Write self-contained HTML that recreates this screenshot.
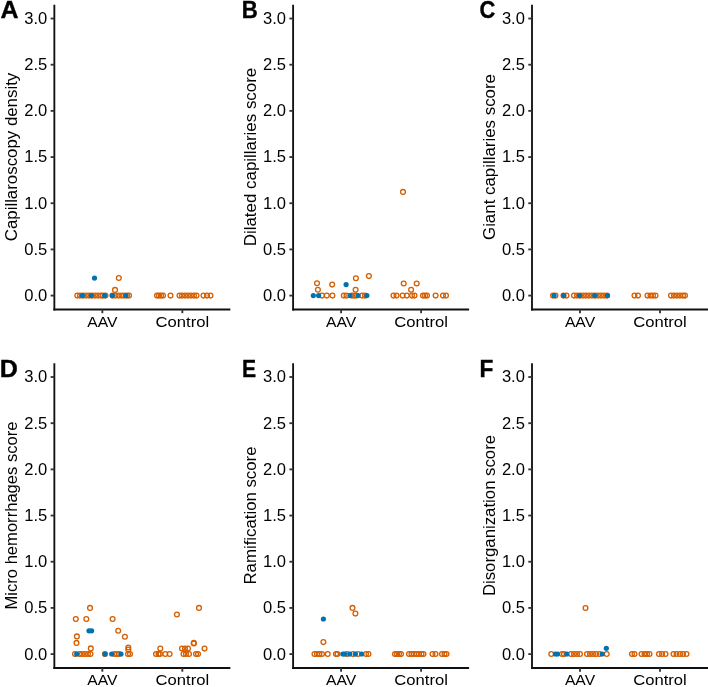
<!DOCTYPE html><html><head><meta charset="utf-8"><style>html,body{margin:0;padding:0;background:#fff;width:708px;height:687px;overflow:hidden}svg{display:block;will-change:transform}</style></head><body>
<svg style="font-family:&quot;Liberation Sans&quot;, sans-serif" width="708" height="687" viewBox="0 0 708 687">
<rect width="708" height="687" fill="#fff"/>
<g><line x1="54.35" y1="4.80" x2="54.35" y2="310.43" stroke="#111" stroke-width="1.85"/><line x1="53.43" y1="309.50" x2="230.35" y2="309.50" stroke="#111" stroke-width="1.85"/><line x1="50.65" y1="295.60" x2="54.35" y2="295.60" stroke="#333" stroke-width="1.85"/><text x="47.25" y="301.00" text-anchor="end" font-size="16" fill="#000" textLength="23" lengthAdjust="spacingAndGlyphs">0.0</text><line x1="50.65" y1="249.42" x2="54.35" y2="249.42" stroke="#333" stroke-width="1.85"/><text x="47.25" y="254.82" text-anchor="end" font-size="16" fill="#000" textLength="23" lengthAdjust="spacingAndGlyphs">0.5</text><line x1="50.65" y1="203.24" x2="54.35" y2="203.24" stroke="#333" stroke-width="1.85"/><text x="47.25" y="208.64" text-anchor="end" font-size="16" fill="#000" textLength="23" lengthAdjust="spacingAndGlyphs">1.0</text><line x1="50.65" y1="157.06" x2="54.35" y2="157.06" stroke="#333" stroke-width="1.85"/><text x="47.25" y="162.46" text-anchor="end" font-size="16" fill="#000" textLength="23" lengthAdjust="spacingAndGlyphs">1.5</text><line x1="50.65" y1="110.88" x2="54.35" y2="110.88" stroke="#333" stroke-width="1.85"/><text x="47.25" y="116.28" text-anchor="end" font-size="16" fill="#000" textLength="23" lengthAdjust="spacingAndGlyphs">2.0</text><line x1="50.65" y1="64.70" x2="54.35" y2="64.70" stroke="#333" stroke-width="1.85"/><text x="47.25" y="70.10" text-anchor="end" font-size="16" fill="#000" textLength="23" lengthAdjust="spacingAndGlyphs">2.5</text><line x1="50.65" y1="18.52" x2="54.35" y2="18.52" stroke="#333" stroke-width="1.85"/><text x="47.25" y="23.92" text-anchor="end" font-size="16" fill="#000" textLength="23" lengthAdjust="spacingAndGlyphs">3.0</text><line x1="102.35" y1="309.50" x2="102.35" y2="313.20" stroke="#333" stroke-width="1.85"/><text x="102.35" y="326.90" text-anchor="middle" font-size="15.3" fill="#000" textLength="30.2" lengthAdjust="spacingAndGlyphs">AAV</text><line x1="182.35" y1="309.50" x2="182.35" y2="313.20" stroke="#333" stroke-width="1.85"/><text x="182.35" y="326.90" text-anchor="middle" font-size="15.3" fill="#000" textLength="53.6" lengthAdjust="spacingAndGlyphs">Control</text><text transform="translate(17.25,157.00) rotate(-90)" x="0" y="0" text-anchor="middle" font-size="15.6" fill="#000" textLength="168.5" lengthAdjust="spacingAndGlyphs">Capillaroscopy density</text><text x="0" y="0" transform="translate(0.56,17.6) scale(1.086,1.003)" font-size="23" font-weight="bold" fill="#000" stroke="#000" stroke-width="0.35">A</text></g>
<g><line x1="293.1" y1="4.80" x2="293.1" y2="310.43" stroke="#111" stroke-width="1.85"/><line x1="292.18" y1="309.50" x2="469.1" y2="309.50" stroke="#111" stroke-width="1.85"/><line x1="289.40" y1="295.60" x2="293.1" y2="295.60" stroke="#333" stroke-width="1.85"/><text x="286.00" y="301.00" text-anchor="end" font-size="16" fill="#000" textLength="23" lengthAdjust="spacingAndGlyphs">0.0</text><line x1="289.40" y1="249.42" x2="293.1" y2="249.42" stroke="#333" stroke-width="1.85"/><text x="286.00" y="254.82" text-anchor="end" font-size="16" fill="#000" textLength="23" lengthAdjust="spacingAndGlyphs">0.5</text><line x1="289.40" y1="203.24" x2="293.1" y2="203.24" stroke="#333" stroke-width="1.85"/><text x="286.00" y="208.64" text-anchor="end" font-size="16" fill="#000" textLength="23" lengthAdjust="spacingAndGlyphs">1.0</text><line x1="289.40" y1="157.06" x2="293.1" y2="157.06" stroke="#333" stroke-width="1.85"/><text x="286.00" y="162.46" text-anchor="end" font-size="16" fill="#000" textLength="23" lengthAdjust="spacingAndGlyphs">1.5</text><line x1="289.40" y1="110.88" x2="293.1" y2="110.88" stroke="#333" stroke-width="1.85"/><text x="286.00" y="116.28" text-anchor="end" font-size="16" fill="#000" textLength="23" lengthAdjust="spacingAndGlyphs">2.0</text><line x1="289.40" y1="64.70" x2="293.1" y2="64.70" stroke="#333" stroke-width="1.85"/><text x="286.00" y="70.10" text-anchor="end" font-size="16" fill="#000" textLength="23" lengthAdjust="spacingAndGlyphs">2.5</text><line x1="289.40" y1="18.52" x2="293.1" y2="18.52" stroke="#333" stroke-width="1.85"/><text x="286.00" y="23.92" text-anchor="end" font-size="16" fill="#000" textLength="23" lengthAdjust="spacingAndGlyphs">3.0</text><line x1="341.10" y1="309.50" x2="341.10" y2="313.20" stroke="#333" stroke-width="1.85"/><text x="341.10" y="326.90" text-anchor="middle" font-size="15.3" fill="#000" textLength="30.2" lengthAdjust="spacingAndGlyphs">AAV</text><line x1="421.10" y1="309.50" x2="421.10" y2="313.20" stroke="#333" stroke-width="1.85"/><text x="421.10" y="326.90" text-anchor="middle" font-size="15.3" fill="#000" textLength="53.6" lengthAdjust="spacingAndGlyphs">Control</text><text transform="translate(256.00,157.00) rotate(-90)" x="0" y="0" text-anchor="middle" font-size="15.6" fill="#000" textLength="178.5" lengthAdjust="spacingAndGlyphs">Dilated capillaries score</text><text x="0" y="0" transform="translate(241.64,17.59) scale(0.966,1.028)" font-size="23" font-weight="bold" fill="#000" stroke="#000" stroke-width="0.35">B</text></g>
<g><line x1="532.0" y1="4.80" x2="532.0" y2="310.43" stroke="#111" stroke-width="1.85"/><line x1="531.08" y1="309.50" x2="708.0" y2="309.50" stroke="#111" stroke-width="1.85"/><line x1="528.30" y1="295.60" x2="532.0" y2="295.60" stroke="#333" stroke-width="1.85"/><text x="524.90" y="301.00" text-anchor="end" font-size="16" fill="#000" textLength="23" lengthAdjust="spacingAndGlyphs">0.0</text><line x1="528.30" y1="249.42" x2="532.0" y2="249.42" stroke="#333" stroke-width="1.85"/><text x="524.90" y="254.82" text-anchor="end" font-size="16" fill="#000" textLength="23" lengthAdjust="spacingAndGlyphs">0.5</text><line x1="528.30" y1="203.24" x2="532.0" y2="203.24" stroke="#333" stroke-width="1.85"/><text x="524.90" y="208.64" text-anchor="end" font-size="16" fill="#000" textLength="23" lengthAdjust="spacingAndGlyphs">1.0</text><line x1="528.30" y1="157.06" x2="532.0" y2="157.06" stroke="#333" stroke-width="1.85"/><text x="524.90" y="162.46" text-anchor="end" font-size="16" fill="#000" textLength="23" lengthAdjust="spacingAndGlyphs">1.5</text><line x1="528.30" y1="110.88" x2="532.0" y2="110.88" stroke="#333" stroke-width="1.85"/><text x="524.90" y="116.28" text-anchor="end" font-size="16" fill="#000" textLength="23" lengthAdjust="spacingAndGlyphs">2.0</text><line x1="528.30" y1="64.70" x2="532.0" y2="64.70" stroke="#333" stroke-width="1.85"/><text x="524.90" y="70.10" text-anchor="end" font-size="16" fill="#000" textLength="23" lengthAdjust="spacingAndGlyphs">2.5</text><line x1="528.30" y1="18.52" x2="532.0" y2="18.52" stroke="#333" stroke-width="1.85"/><text x="524.90" y="23.92" text-anchor="end" font-size="16" fill="#000" textLength="23" lengthAdjust="spacingAndGlyphs">3.0</text><line x1="580.00" y1="309.50" x2="580.00" y2="313.20" stroke="#333" stroke-width="1.85"/><text x="580.00" y="326.90" text-anchor="middle" font-size="15.3" fill="#000" textLength="30.2" lengthAdjust="spacingAndGlyphs">AAV</text><line x1="660.00" y1="309.50" x2="660.00" y2="313.20" stroke="#333" stroke-width="1.85"/><text x="660.00" y="326.90" text-anchor="middle" font-size="15.3" fill="#000" textLength="53.6" lengthAdjust="spacingAndGlyphs">Control</text><text transform="translate(494.90,157.00) rotate(-90)" x="0" y="0" text-anchor="middle" font-size="15.6" fill="#000" textLength="166" lengthAdjust="spacingAndGlyphs">Giant capillaries score</text><text x="0" y="0" transform="translate(479.38,18.39) scale(0.954,1.073)" font-size="23" font-weight="bold" fill="#000" stroke="#000" stroke-width="0.35">C</text></g>
<g><line x1="54.35" y1="363.30" x2="54.35" y2="668.92" stroke="#111" stroke-width="1.85"/><line x1="53.43" y1="668.00" x2="230.35" y2="668.00" stroke="#111" stroke-width="1.85"/><line x1="50.65" y1="654.10" x2="54.35" y2="654.10" stroke="#333" stroke-width="1.85"/><text x="47.25" y="659.50" text-anchor="end" font-size="16" fill="#000" textLength="23" lengthAdjust="spacingAndGlyphs">0.0</text><line x1="50.65" y1="607.92" x2="54.35" y2="607.92" stroke="#333" stroke-width="1.85"/><text x="47.25" y="613.32" text-anchor="end" font-size="16" fill="#000" textLength="23" lengthAdjust="spacingAndGlyphs">0.5</text><line x1="50.65" y1="561.74" x2="54.35" y2="561.74" stroke="#333" stroke-width="1.85"/><text x="47.25" y="567.14" text-anchor="end" font-size="16" fill="#000" textLength="23" lengthAdjust="spacingAndGlyphs">1.0</text><line x1="50.65" y1="515.56" x2="54.35" y2="515.56" stroke="#333" stroke-width="1.85"/><text x="47.25" y="520.96" text-anchor="end" font-size="16" fill="#000" textLength="23" lengthAdjust="spacingAndGlyphs">1.5</text><line x1="50.65" y1="469.38" x2="54.35" y2="469.38" stroke="#333" stroke-width="1.85"/><text x="47.25" y="474.78" text-anchor="end" font-size="16" fill="#000" textLength="23" lengthAdjust="spacingAndGlyphs">2.0</text><line x1="50.65" y1="423.20" x2="54.35" y2="423.20" stroke="#333" stroke-width="1.85"/><text x="47.25" y="428.60" text-anchor="end" font-size="16" fill="#000" textLength="23" lengthAdjust="spacingAndGlyphs">2.5</text><line x1="50.65" y1="377.02" x2="54.35" y2="377.02" stroke="#333" stroke-width="1.85"/><text x="47.25" y="382.42" text-anchor="end" font-size="16" fill="#000" textLength="23" lengthAdjust="spacingAndGlyphs">3.0</text><line x1="102.35" y1="668.00" x2="102.35" y2="671.70" stroke="#333" stroke-width="1.85"/><text x="102.35" y="685.40" text-anchor="middle" font-size="15.3" fill="#000" textLength="30.2" lengthAdjust="spacingAndGlyphs">AAV</text><line x1="182.35" y1="668.00" x2="182.35" y2="671.70" stroke="#333" stroke-width="1.85"/><text x="182.35" y="685.40" text-anchor="middle" font-size="15.3" fill="#000" textLength="53.6" lengthAdjust="spacingAndGlyphs">Control</text><text transform="translate(17.25,515.50) rotate(-90)" x="0" y="0" text-anchor="middle" font-size="15.6" fill="#000" textLength="188" lengthAdjust="spacingAndGlyphs">Micro hemorrhages score</text><text x="0" y="0" transform="translate(-0.32,376.59) scale(1.09,1.062)" font-size="23" font-weight="bold" fill="#000" stroke="#000" stroke-width="0.35">D</text></g>
<g><line x1="293.1" y1="363.30" x2="293.1" y2="668.92" stroke="#111" stroke-width="1.85"/><line x1="292.18" y1="668.00" x2="469.1" y2="668.00" stroke="#111" stroke-width="1.85"/><line x1="289.40" y1="654.10" x2="293.1" y2="654.10" stroke="#333" stroke-width="1.85"/><text x="286.00" y="659.50" text-anchor="end" font-size="16" fill="#000" textLength="23" lengthAdjust="spacingAndGlyphs">0.0</text><line x1="289.40" y1="607.92" x2="293.1" y2="607.92" stroke="#333" stroke-width="1.85"/><text x="286.00" y="613.32" text-anchor="end" font-size="16" fill="#000" textLength="23" lengthAdjust="spacingAndGlyphs">0.5</text><line x1="289.40" y1="561.74" x2="293.1" y2="561.74" stroke="#333" stroke-width="1.85"/><text x="286.00" y="567.14" text-anchor="end" font-size="16" fill="#000" textLength="23" lengthAdjust="spacingAndGlyphs">1.0</text><line x1="289.40" y1="515.56" x2="293.1" y2="515.56" stroke="#333" stroke-width="1.85"/><text x="286.00" y="520.96" text-anchor="end" font-size="16" fill="#000" textLength="23" lengthAdjust="spacingAndGlyphs">1.5</text><line x1="289.40" y1="469.38" x2="293.1" y2="469.38" stroke="#333" stroke-width="1.85"/><text x="286.00" y="474.78" text-anchor="end" font-size="16" fill="#000" textLength="23" lengthAdjust="spacingAndGlyphs">2.0</text><line x1="289.40" y1="423.20" x2="293.1" y2="423.20" stroke="#333" stroke-width="1.85"/><text x="286.00" y="428.60" text-anchor="end" font-size="16" fill="#000" textLength="23" lengthAdjust="spacingAndGlyphs">2.5</text><line x1="289.40" y1="377.02" x2="293.1" y2="377.02" stroke="#333" stroke-width="1.85"/><text x="286.00" y="382.42" text-anchor="end" font-size="16" fill="#000" textLength="23" lengthAdjust="spacingAndGlyphs">3.0</text><line x1="341.10" y1="668.00" x2="341.10" y2="671.70" stroke="#333" stroke-width="1.85"/><text x="341.10" y="685.40" text-anchor="middle" font-size="15.3" fill="#000" textLength="30.2" lengthAdjust="spacingAndGlyphs">AAV</text><line x1="421.10" y1="668.00" x2="421.10" y2="671.70" stroke="#333" stroke-width="1.85"/><text x="421.10" y="685.40" text-anchor="middle" font-size="15.3" fill="#000" textLength="53.6" lengthAdjust="spacingAndGlyphs">Control</text><text transform="translate(256.00,515.50) rotate(-90)" x="0" y="0" text-anchor="middle" font-size="15.6" fill="#000" textLength="138" lengthAdjust="spacingAndGlyphs">Ramification score</text><text x="0" y="0" transform="translate(242.01,376.79) scale(0.921,1.065)" font-size="23" font-weight="bold" fill="#000" stroke="#000" stroke-width="0.35">E</text></g>
<g><line x1="532.0" y1="363.30" x2="532.0" y2="668.92" stroke="#111" stroke-width="1.85"/><line x1="531.08" y1="668.00" x2="708.0" y2="668.00" stroke="#111" stroke-width="1.85"/><line x1="528.30" y1="654.10" x2="532.0" y2="654.10" stroke="#333" stroke-width="1.85"/><text x="524.90" y="659.50" text-anchor="end" font-size="16" fill="#000" textLength="23" lengthAdjust="spacingAndGlyphs">0.0</text><line x1="528.30" y1="607.92" x2="532.0" y2="607.92" stroke="#333" stroke-width="1.85"/><text x="524.90" y="613.32" text-anchor="end" font-size="16" fill="#000" textLength="23" lengthAdjust="spacingAndGlyphs">0.5</text><line x1="528.30" y1="561.74" x2="532.0" y2="561.74" stroke="#333" stroke-width="1.85"/><text x="524.90" y="567.14" text-anchor="end" font-size="16" fill="#000" textLength="23" lengthAdjust="spacingAndGlyphs">1.0</text><line x1="528.30" y1="515.56" x2="532.0" y2="515.56" stroke="#333" stroke-width="1.85"/><text x="524.90" y="520.96" text-anchor="end" font-size="16" fill="#000" textLength="23" lengthAdjust="spacingAndGlyphs">1.5</text><line x1="528.30" y1="469.38" x2="532.0" y2="469.38" stroke="#333" stroke-width="1.85"/><text x="524.90" y="474.78" text-anchor="end" font-size="16" fill="#000" textLength="23" lengthAdjust="spacingAndGlyphs">2.0</text><line x1="528.30" y1="423.20" x2="532.0" y2="423.20" stroke="#333" stroke-width="1.85"/><text x="524.90" y="428.60" text-anchor="end" font-size="16" fill="#000" textLength="23" lengthAdjust="spacingAndGlyphs">2.5</text><line x1="528.30" y1="377.02" x2="532.0" y2="377.02" stroke="#333" stroke-width="1.85"/><text x="524.90" y="382.42" text-anchor="end" font-size="16" fill="#000" textLength="23" lengthAdjust="spacingAndGlyphs">3.0</text><line x1="580.00" y1="668.00" x2="580.00" y2="671.70" stroke="#333" stroke-width="1.85"/><text x="580.00" y="685.40" text-anchor="middle" font-size="15.3" fill="#000" textLength="30.2" lengthAdjust="spacingAndGlyphs">AAV</text><line x1="660.00" y1="668.00" x2="660.00" y2="671.70" stroke="#333" stroke-width="1.85"/><text x="660.00" y="685.40" text-anchor="middle" font-size="15.3" fill="#000" textLength="53.6" lengthAdjust="spacingAndGlyphs">Control</text><text transform="translate(494.90,515.50) rotate(-90)" x="0" y="0" text-anchor="middle" font-size="15.6" fill="#000" textLength="161.2" lengthAdjust="spacingAndGlyphs">Disorganization score</text><text x="0" y="0" transform="translate(479.42,376.79) scale(0.987,1.065)" font-size="23" font-weight="bold" fill="#000" stroke="#000" stroke-width="0.35">F</text></g>
<g><circle cx="77.3" cy="295.6" r="2.4" fill="none" stroke="#D55E00" stroke-width="1.3"/><circle cx="80" cy="295.6" r="2.4" fill="none" stroke="#D55E00" stroke-width="1.3"/><circle cx="83" cy="295.6" r="2.4" fill="none" stroke="#D55E00" stroke-width="1.3"/><circle cx="86" cy="295.6" r="2.4" fill="none" stroke="#D55E00" stroke-width="1.3"/><circle cx="89" cy="295.6" r="2.4" fill="none" stroke="#D55E00" stroke-width="1.3"/><circle cx="92" cy="295.6" r="2.4" fill="none" stroke="#D55E00" stroke-width="1.3"/><circle cx="95" cy="295.6" r="2.4" fill="none" stroke="#D55E00" stroke-width="1.3"/><circle cx="98" cy="295.6" r="2.4" fill="none" stroke="#D55E00" stroke-width="1.3"/><circle cx="101" cy="295.6" r="2.4" fill="none" stroke="#D55E00" stroke-width="1.3"/><circle cx="103" cy="295.6" r="2.4" fill="none" stroke="#D55E00" stroke-width="1.3"/><circle cx="105.5" cy="295.6" r="2.4" fill="none" stroke="#D55E00" stroke-width="1.3"/><circle cx="112.5" cy="295.6" r="2.4" fill="none" stroke="#D55E00" stroke-width="1.3"/><circle cx="115.5" cy="295.6" r="2.4" fill="none" stroke="#D55E00" stroke-width="1.3"/><circle cx="118.5" cy="295.6" r="2.4" fill="none" stroke="#D55E00" stroke-width="1.3"/><circle cx="121.5" cy="295.6" r="2.4" fill="none" stroke="#D55E00" stroke-width="1.3"/><circle cx="124" cy="295.6" r="2.4" fill="none" stroke="#D55E00" stroke-width="1.3"/><circle cx="127" cy="295.6" r="2.4" fill="none" stroke="#D55E00" stroke-width="1.3"/><circle cx="129" cy="295.6" r="2.4" fill="none" stroke="#D55E00" stroke-width="1.3"/><circle cx="118.8" cy="278" r="2.4" fill="none" stroke="#D55E00" stroke-width="1.3"/><circle cx="115" cy="289.9" r="2.4" fill="none" stroke="#D55E00" stroke-width="1.3"/><circle cx="157" cy="295.6" r="2.4" fill="none" stroke="#D55E00" stroke-width="1.3"/><circle cx="159" cy="295.6" r="2.4" fill="none" stroke="#D55E00" stroke-width="1.3"/><circle cx="161" cy="295.6" r="2.4" fill="none" stroke="#D55E00" stroke-width="1.3"/><circle cx="163" cy="295.6" r="2.4" fill="none" stroke="#D55E00" stroke-width="1.3"/><circle cx="170.5" cy="295.6" r="2.4" fill="none" stroke="#D55E00" stroke-width="1.3"/><circle cx="179.5" cy="295.6" r="2.4" fill="none" stroke="#D55E00" stroke-width="1.3"/><circle cx="182" cy="295.6" r="2.4" fill="none" stroke="#D55E00" stroke-width="1.3"/><circle cx="185" cy="295.6" r="2.4" fill="none" stroke="#D55E00" stroke-width="1.3"/><circle cx="188" cy="295.6" r="2.4" fill="none" stroke="#D55E00" stroke-width="1.3"/><circle cx="191" cy="295.6" r="2.4" fill="none" stroke="#D55E00" stroke-width="1.3"/><circle cx="194" cy="295.6" r="2.4" fill="none" stroke="#D55E00" stroke-width="1.3"/><circle cx="196.5" cy="295.6" r="2.4" fill="none" stroke="#D55E00" stroke-width="1.3"/><circle cx="203.5" cy="295.6" r="2.4" fill="none" stroke="#D55E00" stroke-width="1.3"/><circle cx="207" cy="295.6" r="2.4" fill="none" stroke="#D55E00" stroke-width="1.3"/><circle cx="210.5" cy="295.6" r="2.4" fill="none" stroke="#D55E00" stroke-width="1.3"/><circle cx="322" cy="295.6" r="2.4" fill="none" stroke="#D55E00" stroke-width="1.3"/><circle cx="326.8" cy="295.6" r="2.4" fill="none" stroke="#D55E00" stroke-width="1.3"/><circle cx="332.4" cy="295.6" r="2.4" fill="none" stroke="#D55E00" stroke-width="1.3"/><circle cx="343.8" cy="295.6" r="2.4" fill="none" stroke="#D55E00" stroke-width="1.3"/><circle cx="346.5" cy="295.6" r="2.4" fill="none" stroke="#D55E00" stroke-width="1.3"/><circle cx="352" cy="295.6" r="2.4" fill="none" stroke="#D55E00" stroke-width="1.3"/><circle cx="354.2" cy="295.6" r="2.4" fill="none" stroke="#D55E00" stroke-width="1.3"/><circle cx="356" cy="295.6" r="2.4" fill="none" stroke="#D55E00" stroke-width="1.3"/><circle cx="362.1" cy="295.6" r="2.4" fill="none" stroke="#D55E00" stroke-width="1.3"/><circle cx="365" cy="295.6" r="2.4" fill="none" stroke="#D55E00" stroke-width="1.3"/><circle cx="317" cy="283.2" r="2.4" fill="none" stroke="#D55E00" stroke-width="1.3"/><circle cx="317.9" cy="289.8" r="2.4" fill="none" stroke="#D55E00" stroke-width="1.3"/><circle cx="332.2" cy="284.6" r="2.4" fill="none" stroke="#D55E00" stroke-width="1.3"/><circle cx="355.9" cy="278.2" r="2.4" fill="none" stroke="#D55E00" stroke-width="1.3"/><circle cx="355.6" cy="289.8" r="2.4" fill="none" stroke="#D55E00" stroke-width="1.3"/><circle cx="368.9" cy="276.1" r="2.4" fill="none" stroke="#D55E00" stroke-width="1.3"/><circle cx="393.5" cy="295.6" r="2.4" fill="none" stroke="#D55E00" stroke-width="1.3"/><circle cx="396.5" cy="295.6" r="2.4" fill="none" stroke="#D55E00" stroke-width="1.3"/><circle cx="402.6" cy="295.6" r="2.4" fill="none" stroke="#D55E00" stroke-width="1.3"/><circle cx="406.8" cy="295.6" r="2.4" fill="none" stroke="#D55E00" stroke-width="1.3"/><circle cx="412" cy="295.6" r="2.4" fill="none" stroke="#D55E00" stroke-width="1.3"/><circle cx="414.5" cy="295.6" r="2.4" fill="none" stroke="#D55E00" stroke-width="1.3"/><circle cx="423" cy="295.6" r="2.4" fill="none" stroke="#D55E00" stroke-width="1.3"/><circle cx="425" cy="295.6" r="2.4" fill="none" stroke="#D55E00" stroke-width="1.3"/><circle cx="427" cy="295.6" r="2.4" fill="none" stroke="#D55E00" stroke-width="1.3"/><circle cx="435.6" cy="295.6" r="2.4" fill="none" stroke="#D55E00" stroke-width="1.3"/><circle cx="443" cy="295.6" r="2.4" fill="none" stroke="#D55E00" stroke-width="1.3"/><circle cx="446" cy="295.6" r="2.4" fill="none" stroke="#D55E00" stroke-width="1.3"/><circle cx="403.7" cy="283.5" r="2.4" fill="none" stroke="#D55E00" stroke-width="1.3"/><circle cx="416.7" cy="283.5" r="2.4" fill="none" stroke="#D55E00" stroke-width="1.3"/><circle cx="411.1" cy="289.8" r="2.4" fill="none" stroke="#D55E00" stroke-width="1.3"/><circle cx="403" cy="191.9" r="2.4" fill="none" stroke="#D55E00" stroke-width="1.3"/><circle cx="553" cy="295.6" r="2.4" fill="none" stroke="#D55E00" stroke-width="1.3"/><circle cx="555.5" cy="295.6" r="2.4" fill="none" stroke="#D55E00" stroke-width="1.3"/><circle cx="563.5" cy="295.6" r="2.4" fill="none" stroke="#D55E00" stroke-width="1.3"/><circle cx="566.5" cy="295.6" r="2.4" fill="none" stroke="#D55E00" stroke-width="1.3"/><circle cx="574" cy="295.6" r="2.4" fill="none" stroke="#D55E00" stroke-width="1.3"/><circle cx="577" cy="295.6" r="2.4" fill="none" stroke="#D55E00" stroke-width="1.3"/><circle cx="580" cy="295.6" r="2.4" fill="none" stroke="#D55E00" stroke-width="1.3"/><circle cx="583" cy="295.6" r="2.4" fill="none" stroke="#D55E00" stroke-width="1.3"/><circle cx="586" cy="295.6" r="2.4" fill="none" stroke="#D55E00" stroke-width="1.3"/><circle cx="589" cy="295.6" r="2.4" fill="none" stroke="#D55E00" stroke-width="1.3"/><circle cx="592" cy="295.6" r="2.4" fill="none" stroke="#D55E00" stroke-width="1.3"/><circle cx="595" cy="295.6" r="2.4" fill="none" stroke="#D55E00" stroke-width="1.3"/><circle cx="598" cy="295.6" r="2.4" fill="none" stroke="#D55E00" stroke-width="1.3"/><circle cx="601" cy="295.6" r="2.4" fill="none" stroke="#D55E00" stroke-width="1.3"/><circle cx="604" cy="295.6" r="2.4" fill="none" stroke="#D55E00" stroke-width="1.3"/><circle cx="607" cy="295.6" r="2.4" fill="none" stroke="#D55E00" stroke-width="1.3"/><circle cx="634.5" cy="295.6" r="2.4" fill="none" stroke="#D55E00" stroke-width="1.3"/><circle cx="638" cy="295.6" r="2.4" fill="none" stroke="#D55E00" stroke-width="1.3"/><circle cx="647.5" cy="295.6" r="2.4" fill="none" stroke="#D55E00" stroke-width="1.3"/><circle cx="650.5" cy="295.6" r="2.4" fill="none" stroke="#D55E00" stroke-width="1.3"/><circle cx="653" cy="295.6" r="2.4" fill="none" stroke="#D55E00" stroke-width="1.3"/><circle cx="655.5" cy="295.6" r="2.4" fill="none" stroke="#D55E00" stroke-width="1.3"/><circle cx="671" cy="295.6" r="2.4" fill="none" stroke="#D55E00" stroke-width="1.3"/><circle cx="674" cy="295.6" r="2.4" fill="none" stroke="#D55E00" stroke-width="1.3"/><circle cx="677" cy="295.6" r="2.4" fill="none" stroke="#D55E00" stroke-width="1.3"/><circle cx="680" cy="295.6" r="2.4" fill="none" stroke="#D55E00" stroke-width="1.3"/><circle cx="683" cy="295.6" r="2.4" fill="none" stroke="#D55E00" stroke-width="1.3"/><circle cx="685" cy="295.6" r="2.4" fill="none" stroke="#D55E00" stroke-width="1.3"/><circle cx="75" cy="654.0" r="2.4" fill="none" stroke="#D55E00" stroke-width="1.3"/><circle cx="79.5" cy="654.0" r="2.4" fill="none" stroke="#D55E00" stroke-width="1.3"/><circle cx="82" cy="654.0" r="2.4" fill="none" stroke="#D55E00" stroke-width="1.3"/><circle cx="85" cy="654.0" r="2.4" fill="none" stroke="#D55E00" stroke-width="1.3"/><circle cx="88" cy="654.0" r="2.4" fill="none" stroke="#D55E00" stroke-width="1.3"/><circle cx="90.5" cy="654.0" r="2.4" fill="none" stroke="#D55E00" stroke-width="1.3"/><circle cx="105" cy="654.0" r="2.4" fill="none" stroke="#D55E00" stroke-width="1.3"/><circle cx="114.5" cy="654.0" r="2.4" fill="none" stroke="#D55E00" stroke-width="1.3"/><circle cx="117" cy="654.0" r="2.4" fill="none" stroke="#D55E00" stroke-width="1.3"/><circle cx="119" cy="654.0" r="2.4" fill="none" stroke="#D55E00" stroke-width="1.3"/><circle cx="128" cy="654.0" r="2.4" fill="none" stroke="#D55E00" stroke-width="1.3"/><circle cx="130" cy="654.0" r="2.4" fill="none" stroke="#D55E00" stroke-width="1.3"/><circle cx="90" cy="607.9" r="2.4" fill="none" stroke="#D55E00" stroke-width="1.3"/><circle cx="75.8" cy="619" r="2.4" fill="none" stroke="#D55E00" stroke-width="1.3"/><circle cx="86.3" cy="619" r="2.4" fill="none" stroke="#D55E00" stroke-width="1.3"/><circle cx="112.6" cy="619" r="2.4" fill="none" stroke="#D55E00" stroke-width="1.3"/><circle cx="118.2" cy="630.8" r="2.4" fill="none" stroke="#D55E00" stroke-width="1.3"/><circle cx="76.9" cy="636.4" r="2.4" fill="none" stroke="#D55E00" stroke-width="1.3"/><circle cx="124.9" cy="636.7" r="2.4" fill="none" stroke="#D55E00" stroke-width="1.3"/><circle cx="76.5" cy="642.9" r="2.4" fill="none" stroke="#D55E00" stroke-width="1.3"/><circle cx="90.8" cy="648.4" r="2.4" fill="none" stroke="#D55E00" stroke-width="1.3"/><circle cx="128.3" cy="647.5" r="2.4" fill="none" stroke="#D55E00" stroke-width="1.3"/><circle cx="128.3" cy="649.5" r="2.4" fill="none" stroke="#D55E00" stroke-width="1.3"/><circle cx="156" cy="654.0" r="2.4" fill="none" stroke="#D55E00" stroke-width="1.3"/><circle cx="158.5" cy="654.0" r="2.4" fill="none" stroke="#D55E00" stroke-width="1.3"/><circle cx="160" cy="654.0" r="2.4" fill="none" stroke="#D55E00" stroke-width="1.3"/><circle cx="165.3" cy="654.0" r="2.4" fill="none" stroke="#D55E00" stroke-width="1.3"/><circle cx="169.6" cy="654.0" r="2.4" fill="none" stroke="#D55E00" stroke-width="1.3"/><circle cx="183.5" cy="654.0" r="2.4" fill="none" stroke="#D55E00" stroke-width="1.3"/><circle cx="186" cy="654.0" r="2.4" fill="none" stroke="#D55E00" stroke-width="1.3"/><circle cx="189" cy="654.0" r="2.4" fill="none" stroke="#D55E00" stroke-width="1.3"/><circle cx="196" cy="654.0" r="2.4" fill="none" stroke="#D55E00" stroke-width="1.3"/><circle cx="198" cy="654.0" r="2.4" fill="none" stroke="#D55E00" stroke-width="1.3"/><circle cx="160.3" cy="648.6" r="2.4" fill="none" stroke="#D55E00" stroke-width="1.3"/><circle cx="182" cy="648.6" r="2.4" fill="none" stroke="#D55E00" stroke-width="1.3"/><circle cx="185" cy="648.6" r="2.4" fill="none" stroke="#D55E00" stroke-width="1.3"/><circle cx="188" cy="648.6" r="2.4" fill="none" stroke="#D55E00" stroke-width="1.3"/><circle cx="204.5" cy="648.6" r="2.4" fill="none" stroke="#D55E00" stroke-width="1.3"/><circle cx="193.8" cy="642.9" r="2.4" fill="none" stroke="#D55E00" stroke-width="1.3"/><circle cx="193.8" cy="643.5" r="2.4" fill="none" stroke="#D55E00" stroke-width="1.3"/><circle cx="176.9" cy="614.5" r="2.4" fill="none" stroke="#D55E00" stroke-width="1.3"/><circle cx="199" cy="607.9" r="2.4" fill="none" stroke="#D55E00" stroke-width="1.3"/><circle cx="314.5" cy="654.0" r="2.4" fill="none" stroke="#D55E00" stroke-width="1.3"/><circle cx="317" cy="654.0" r="2.4" fill="none" stroke="#D55E00" stroke-width="1.3"/><circle cx="319.5" cy="654.0" r="2.4" fill="none" stroke="#D55E00" stroke-width="1.3"/><circle cx="322" cy="654.0" r="2.4" fill="none" stroke="#D55E00" stroke-width="1.3"/><circle cx="327.7" cy="654.0" r="2.4" fill="none" stroke="#D55E00" stroke-width="1.3"/><circle cx="336" cy="654.0" r="2.4" fill="none" stroke="#D55E00" stroke-width="1.3"/><circle cx="337.5" cy="654.0" r="2.4" fill="none" stroke="#D55E00" stroke-width="1.3"/><circle cx="347" cy="654.0" r="2.4" fill="none" stroke="#D55E00" stroke-width="1.3"/><circle cx="353" cy="654.0" r="2.4" fill="none" stroke="#D55E00" stroke-width="1.3"/><circle cx="358" cy="654.0" r="2.4" fill="none" stroke="#D55E00" stroke-width="1.3"/><circle cx="366" cy="654.0" r="2.4" fill="none" stroke="#D55E00" stroke-width="1.3"/><circle cx="368.5" cy="654.0" r="2.4" fill="none" stroke="#D55E00" stroke-width="1.3"/><circle cx="323.4" cy="642.1" r="2.4" fill="none" stroke="#D55E00" stroke-width="1.3"/><circle cx="352.5" cy="607.9" r="2.4" fill="none" stroke="#D55E00" stroke-width="1.3"/><circle cx="355.4" cy="613.6" r="2.4" fill="none" stroke="#D55E00" stroke-width="1.3"/><circle cx="395" cy="654.0" r="2.4" fill="none" stroke="#D55E00" stroke-width="1.3"/><circle cx="397" cy="654.0" r="2.4" fill="none" stroke="#D55E00" stroke-width="1.3"/><circle cx="399" cy="654.0" r="2.4" fill="none" stroke="#D55E00" stroke-width="1.3"/><circle cx="401" cy="654.0" r="2.4" fill="none" stroke="#D55E00" stroke-width="1.3"/><circle cx="409" cy="654.0" r="2.4" fill="none" stroke="#D55E00" stroke-width="1.3"/><circle cx="411.5" cy="654.0" r="2.4" fill="none" stroke="#D55E00" stroke-width="1.3"/><circle cx="414" cy="654.0" r="2.4" fill="none" stroke="#D55E00" stroke-width="1.3"/><circle cx="416.5" cy="654.0" r="2.4" fill="none" stroke="#D55E00" stroke-width="1.3"/><circle cx="419" cy="654.0" r="2.4" fill="none" stroke="#D55E00" stroke-width="1.3"/><circle cx="421.5" cy="654.0" r="2.4" fill="none" stroke="#D55E00" stroke-width="1.3"/><circle cx="423.5" cy="654.0" r="2.4" fill="none" stroke="#D55E00" stroke-width="1.3"/><circle cx="432.5" cy="654.0" r="2.4" fill="none" stroke="#D55E00" stroke-width="1.3"/><circle cx="435.5" cy="654.0" r="2.4" fill="none" stroke="#D55E00" stroke-width="1.3"/><circle cx="442" cy="654.0" r="2.4" fill="none" stroke="#D55E00" stroke-width="1.3"/><circle cx="444.5" cy="654.0" r="2.4" fill="none" stroke="#D55E00" stroke-width="1.3"/><circle cx="446.5" cy="654.0" r="2.4" fill="none" stroke="#D55E00" stroke-width="1.3"/><circle cx="551.3" cy="654.0" r="2.4" fill="none" stroke="#D55E00" stroke-width="1.3"/><circle cx="562" cy="654.0" r="2.4" fill="none" stroke="#D55E00" stroke-width="1.3"/><circle cx="564" cy="654.0" r="2.4" fill="none" stroke="#D55E00" stroke-width="1.3"/><circle cx="571" cy="654.0" r="2.4" fill="none" stroke="#D55E00" stroke-width="1.3"/><circle cx="574" cy="654.0" r="2.4" fill="none" stroke="#D55E00" stroke-width="1.3"/><circle cx="577" cy="654.0" r="2.4" fill="none" stroke="#D55E00" stroke-width="1.3"/><circle cx="580" cy="654.0" r="2.4" fill="none" stroke="#D55E00" stroke-width="1.3"/><circle cx="587" cy="654.0" r="2.4" fill="none" stroke="#D55E00" stroke-width="1.3"/><circle cx="590" cy="654.0" r="2.4" fill="none" stroke="#D55E00" stroke-width="1.3"/><circle cx="593" cy="654.0" r="2.4" fill="none" stroke="#D55E00" stroke-width="1.3"/><circle cx="596" cy="654.0" r="2.4" fill="none" stroke="#D55E00" stroke-width="1.3"/><circle cx="599.5" cy="654.0" r="2.4" fill="none" stroke="#D55E00" stroke-width="1.3"/><circle cx="606.7" cy="654.0" r="2.4" fill="none" stroke="#D55E00" stroke-width="1.3"/><circle cx="585.5" cy="608" r="2.4" fill="none" stroke="#D55E00" stroke-width="1.3"/><circle cx="632" cy="654.0" r="2.4" fill="none" stroke="#D55E00" stroke-width="1.3"/><circle cx="634.5" cy="654.0" r="2.4" fill="none" stroke="#D55E00" stroke-width="1.3"/><circle cx="641.5" cy="654.0" r="2.4" fill="none" stroke="#D55E00" stroke-width="1.3"/><circle cx="644.5" cy="654.0" r="2.4" fill="none" stroke="#D55E00" stroke-width="1.3"/><circle cx="647" cy="654.0" r="2.4" fill="none" stroke="#D55E00" stroke-width="1.3"/><circle cx="649.5" cy="654.0" r="2.4" fill="none" stroke="#D55E00" stroke-width="1.3"/><circle cx="659" cy="654.0" r="2.4" fill="none" stroke="#D55E00" stroke-width="1.3"/><circle cx="662" cy="654.0" r="2.4" fill="none" stroke="#D55E00" stroke-width="1.3"/><circle cx="665.5" cy="654.0" r="2.4" fill="none" stroke="#D55E00" stroke-width="1.3"/><circle cx="673.5" cy="654.0" r="2.4" fill="none" stroke="#D55E00" stroke-width="1.3"/><circle cx="676.5" cy="654.0" r="2.4" fill="none" stroke="#D55E00" stroke-width="1.3"/><circle cx="680" cy="654.0" r="2.4" fill="none" stroke="#D55E00" stroke-width="1.3"/><circle cx="683" cy="654.0" r="2.4" fill="none" stroke="#D55E00" stroke-width="1.3"/><circle cx="686.5" cy="654.0" r="2.4" fill="none" stroke="#D55E00" stroke-width="1.3"/><circle cx="82.4" cy="295.6" r="2.6" fill="#0072B2"/><circle cx="91.3" cy="295.6" r="2.6" fill="#0072B2"/><circle cx="104.6" cy="295.6" r="2.6" fill="#0072B2"/><circle cx="112.3" cy="295.6" r="2.6" fill="#0072B2"/><circle cx="125.9" cy="295.6" r="2.6" fill="#0072B2"/><circle cx="94.5" cy="278.1" r="2.6" fill="#0072B2"/><circle cx="313.3" cy="295.6" r="2.6" fill="#0072B2"/><circle cx="318.6" cy="295.6" r="2.6" fill="#0072B2"/><circle cx="350" cy="295.6" r="2.6" fill="#0072B2"/><circle cx="358" cy="295.6" r="2.6" fill="#0072B2"/><circle cx="366.9" cy="295.6" r="2.6" fill="#0072B2"/><circle cx="346.1" cy="284.6" r="2.6" fill="#0072B2"/><circle cx="554.1" cy="295.6" r="2.6" fill="#0072B2"/><circle cx="563.7" cy="295.6" r="2.6" fill="#0072B2"/><circle cx="579.5" cy="295.6" r="2.6" fill="#0072B2"/><circle cx="594.8" cy="295.6" r="2.6" fill="#0072B2"/><circle cx="607.5" cy="295.6" r="2.6" fill="#0072B2"/><circle cx="76.7" cy="654.0" r="2.6" fill="#0072B2"/><circle cx="104.9" cy="654.0" r="2.6" fill="#0072B2"/><circle cx="111.7" cy="654.0" r="2.6" fill="#0072B2"/><circle cx="121" cy="654.0" r="2.6" fill="#0072B2"/><circle cx="89.0" cy="630.8" r="2.6" fill="#0072B2"/><circle cx="91.6" cy="630.8" r="2.6" fill="#0072B2"/><circle cx="342.9" cy="654.0" r="2.6" fill="#0072B2"/><circle cx="344.6" cy="654.0" r="2.6" fill="#0072B2"/><circle cx="349.7" cy="654.0" r="2.6" fill="#0072B2"/><circle cx="355.4" cy="654.0" r="2.6" fill="#0072B2"/><circle cx="361.6" cy="654.0" r="2.6" fill="#0072B2"/><circle cx="323.4" cy="619" r="2.6" fill="#0072B2"/><circle cx="555.3" cy="654.0" r="2.6" fill="#0072B2"/><circle cx="557.5" cy="654.0" r="2.6" fill="#0072B2"/><circle cx="566.8" cy="654.0" r="2.6" fill="#0072B2"/><circle cx="602.1" cy="654.0" r="2.6" fill="#0072B2"/><circle cx="606.3" cy="648.3" r="2.6" fill="#0072B2"/></g>
</svg></body></html>
